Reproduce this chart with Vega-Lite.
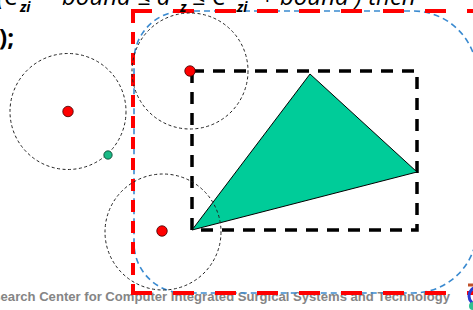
{
  "$schema": "https://vega.github.io/schema/vega-lite/v6.json",
  "width": 473,
  "height": 310,
  "padding": 0,
  "autosize": {"type": "fit", "contains": "padding"},
  "background": "white",
  "config": {"view": {"stroke": null}},
  "encoding": {
    "x": {"field": "x", "type": "quantitative", "scale": {"domain": [0, 473], "nice": false, "zero": false}, "axis": null},
    "y": {"field": "y", "type": "quantitative", "scale": {"domain": [0, 310], "nice": false, "zero": false, "reverse": true}, "axis": null}
  },
  "layer": [
    {
      "data": {"values": [{"x": 450, "y": 301, "label": "Research Center for Computer Integrated Surgical Systems and Technology"}]},
      "mark": {"type": "text", "align": "right", "baseline": "alphabetic", "font": "Liberation Sans", "fontWeight": "bold", "fontSize": 13.1, "color": "#858585", "clip": true},
      "encoding": {"text": {"field": "label"}}
    },
    {
      "data": {"values": [{"x": 134, "y": 11, "x2": 477, "y2": 293}]},
      "mark": {"type": "rect", "fillOpacity": 0, "stroke": "#3a8ad0", "strokeWidth": 1.6, "strokeDash": [6, 4], "cornerRadiusTopLeft": 50, "cornerRadiusBottomLeft": 50, "cornerRadiusTopRight": 64, "cornerRadiusBottomRight": 64, "clip": true},
      "encoding": {"x2": {"field": "x2"}, "y2": {"field": "y2"}}
    },
    {
      "data": {"values": [{"x": 133, "y": 11, "x2": 133, "y2": 293}]},
      "mark": {"type": "rule", "stroke": "#ff0000", "strokeWidth": 4, "strokeDash": [12, 9], "clip": true},
      "encoding": {"x2": {"field": "x2"}, "y2": {"field": "y2"}}
    },
    {
      "data": {"values": [{"x": 131, "y": 11, "x2": 480, "y2": 11}, {"x": 131, "y": 293, "x2": 480, "y2": 293}]},
      "mark": {"type": "rule", "stroke": "#ff0000", "strokeWidth": 4, "strokeDash": [21, 21], "clip": true},
      "encoding": {"x2": {"field": "x2"}, "y2": {"field": "y2"}}
    },
    {
      "data": {"values": [{"x": 192, "y": 71, "x2": 417, "y2": 230}]},
      "mark": {"type": "rect", "fillOpacity": 0, "stroke": "#000000", "strokeWidth": 3.5, "strokeDash": [12, 9], "clip": true},
      "encoding": {"x2": {"field": "x2"}, "y2": {"field": "y2"}}
    },
    {
      "data": {"values": [{"x": 192, "y": 230, "k": 0}, {"x": 310, "y": 74, "k": 1}, {"x": 417, "y": 172, "k": 2}, {"x": 192, "y": 230, "k": 3}]},
      "mark": {"type": "line", "fill": "#00cc99", "stroke": "#000000", "strokeWidth": 1, "clip": true},
      "encoding": {"order": {"field": "k", "type": "quantitative"}}
    },
    {
      "data": {"values": [{"x": 68, "y": 111.5}, {"x": 190, "y": 71}, {"x": 163, "y": 232}]},
      "mark": {"type": "point", "shape": "circle", "filled": false, "size": 13456, "stroke": "#222222", "strokeWidth": 1, "strokeDash": [3, 2.5], "opacity": 1, "clip": true}
    },
    {
      "data": {"values": [{"x": 68, "y": 111.5}, {"x": 190, "y": 71}, {"x": 162, "y": 231}]},
      "mark": {"type": "point", "shape": "circle", "filled": true, "size": 110, "fill": "#ff0000", "stroke": "#400000", "strokeWidth": 0.8, "opacity": 1}
    },
    {
      "data": {"values": [{"x": 108, "y": 155}]},
      "mark": {"type": "point", "shape": "circle", "filled": true, "size": 70, "fill": "#1aba86", "stroke": "#0b3a2a", "strokeWidth": 0.8, "opacity": 1}
    },
    {
      "data": {"values": [{"x": -3, "y": 5, "t": "(C"}, {"x": 62, "y": 5, "t": "bound ≤ d"}, {"x": 192, "y": 5, "t": "≤ C"}, {"x": 260, "y": 5, "t": "+ bound ) then"}]},
      "mark": {"type": "text", "align": "left", "baseline": "alphabetic", "font": "Open Sans", "fontStyle": "italic", "fontSize": 24, "color": "#000000", "clip": true},
      "encoding": {"text": {"field": "t"}}
    },
    {
      "data": {"values": [{"x": 20, "y": 12, "t": "zi"}, {"x": 180, "y": 12, "t": "z"}, {"x": 237, "y": 12, "t": "zi"}]},
      "mark": {"type": "text", "align": "left", "baseline": "alphabetic", "font": "Open Sans", "fontStyle": "italic", "fontWeight": "bold", "fontSize": 14, "color": "#000000", "clip": true},
      "encoding": {"text": {"field": "t"}}
    },
    {
      "data": {"values": [{"x": -1, "y": 46, "t": ");"}]},
      "mark": {"type": "text", "align": "left", "baseline": "alphabetic", "font": "Open Sans", "fontWeight": "bold", "fontSize": 24, "color": "#000000", "clip": true},
      "encoding": {"text": {"field": "t"}}
    },
    {
      "data": {"values": [{"x": 468, "y": 285, "x2": 480, "y2": 285}]},
      "mark": {"type": "rule", "stroke": "#c0502a", "strokeWidth": 3, "clip": true},
      "encoding": {"x2": {"field": "x2"}, "y2": {"field": "y2"}}
    },
    {
      "data": {"values": [{"x": 478, "y": 296}]},
      "mark": {"type": "point", "shape": "circle", "filled": false, "size": 324, "stroke": "#2a3ad0", "strokeWidth": 3, "opacity": 1, "clip": true}
    },
    {
      "data": {"values": [{"x": 473, "y": 306}]},
      "mark": {"type": "point", "shape": "circle", "filled": true, "size": 64, "fill": "#30c090", "opacity": 1, "clip": true}
    }
  ]
}
